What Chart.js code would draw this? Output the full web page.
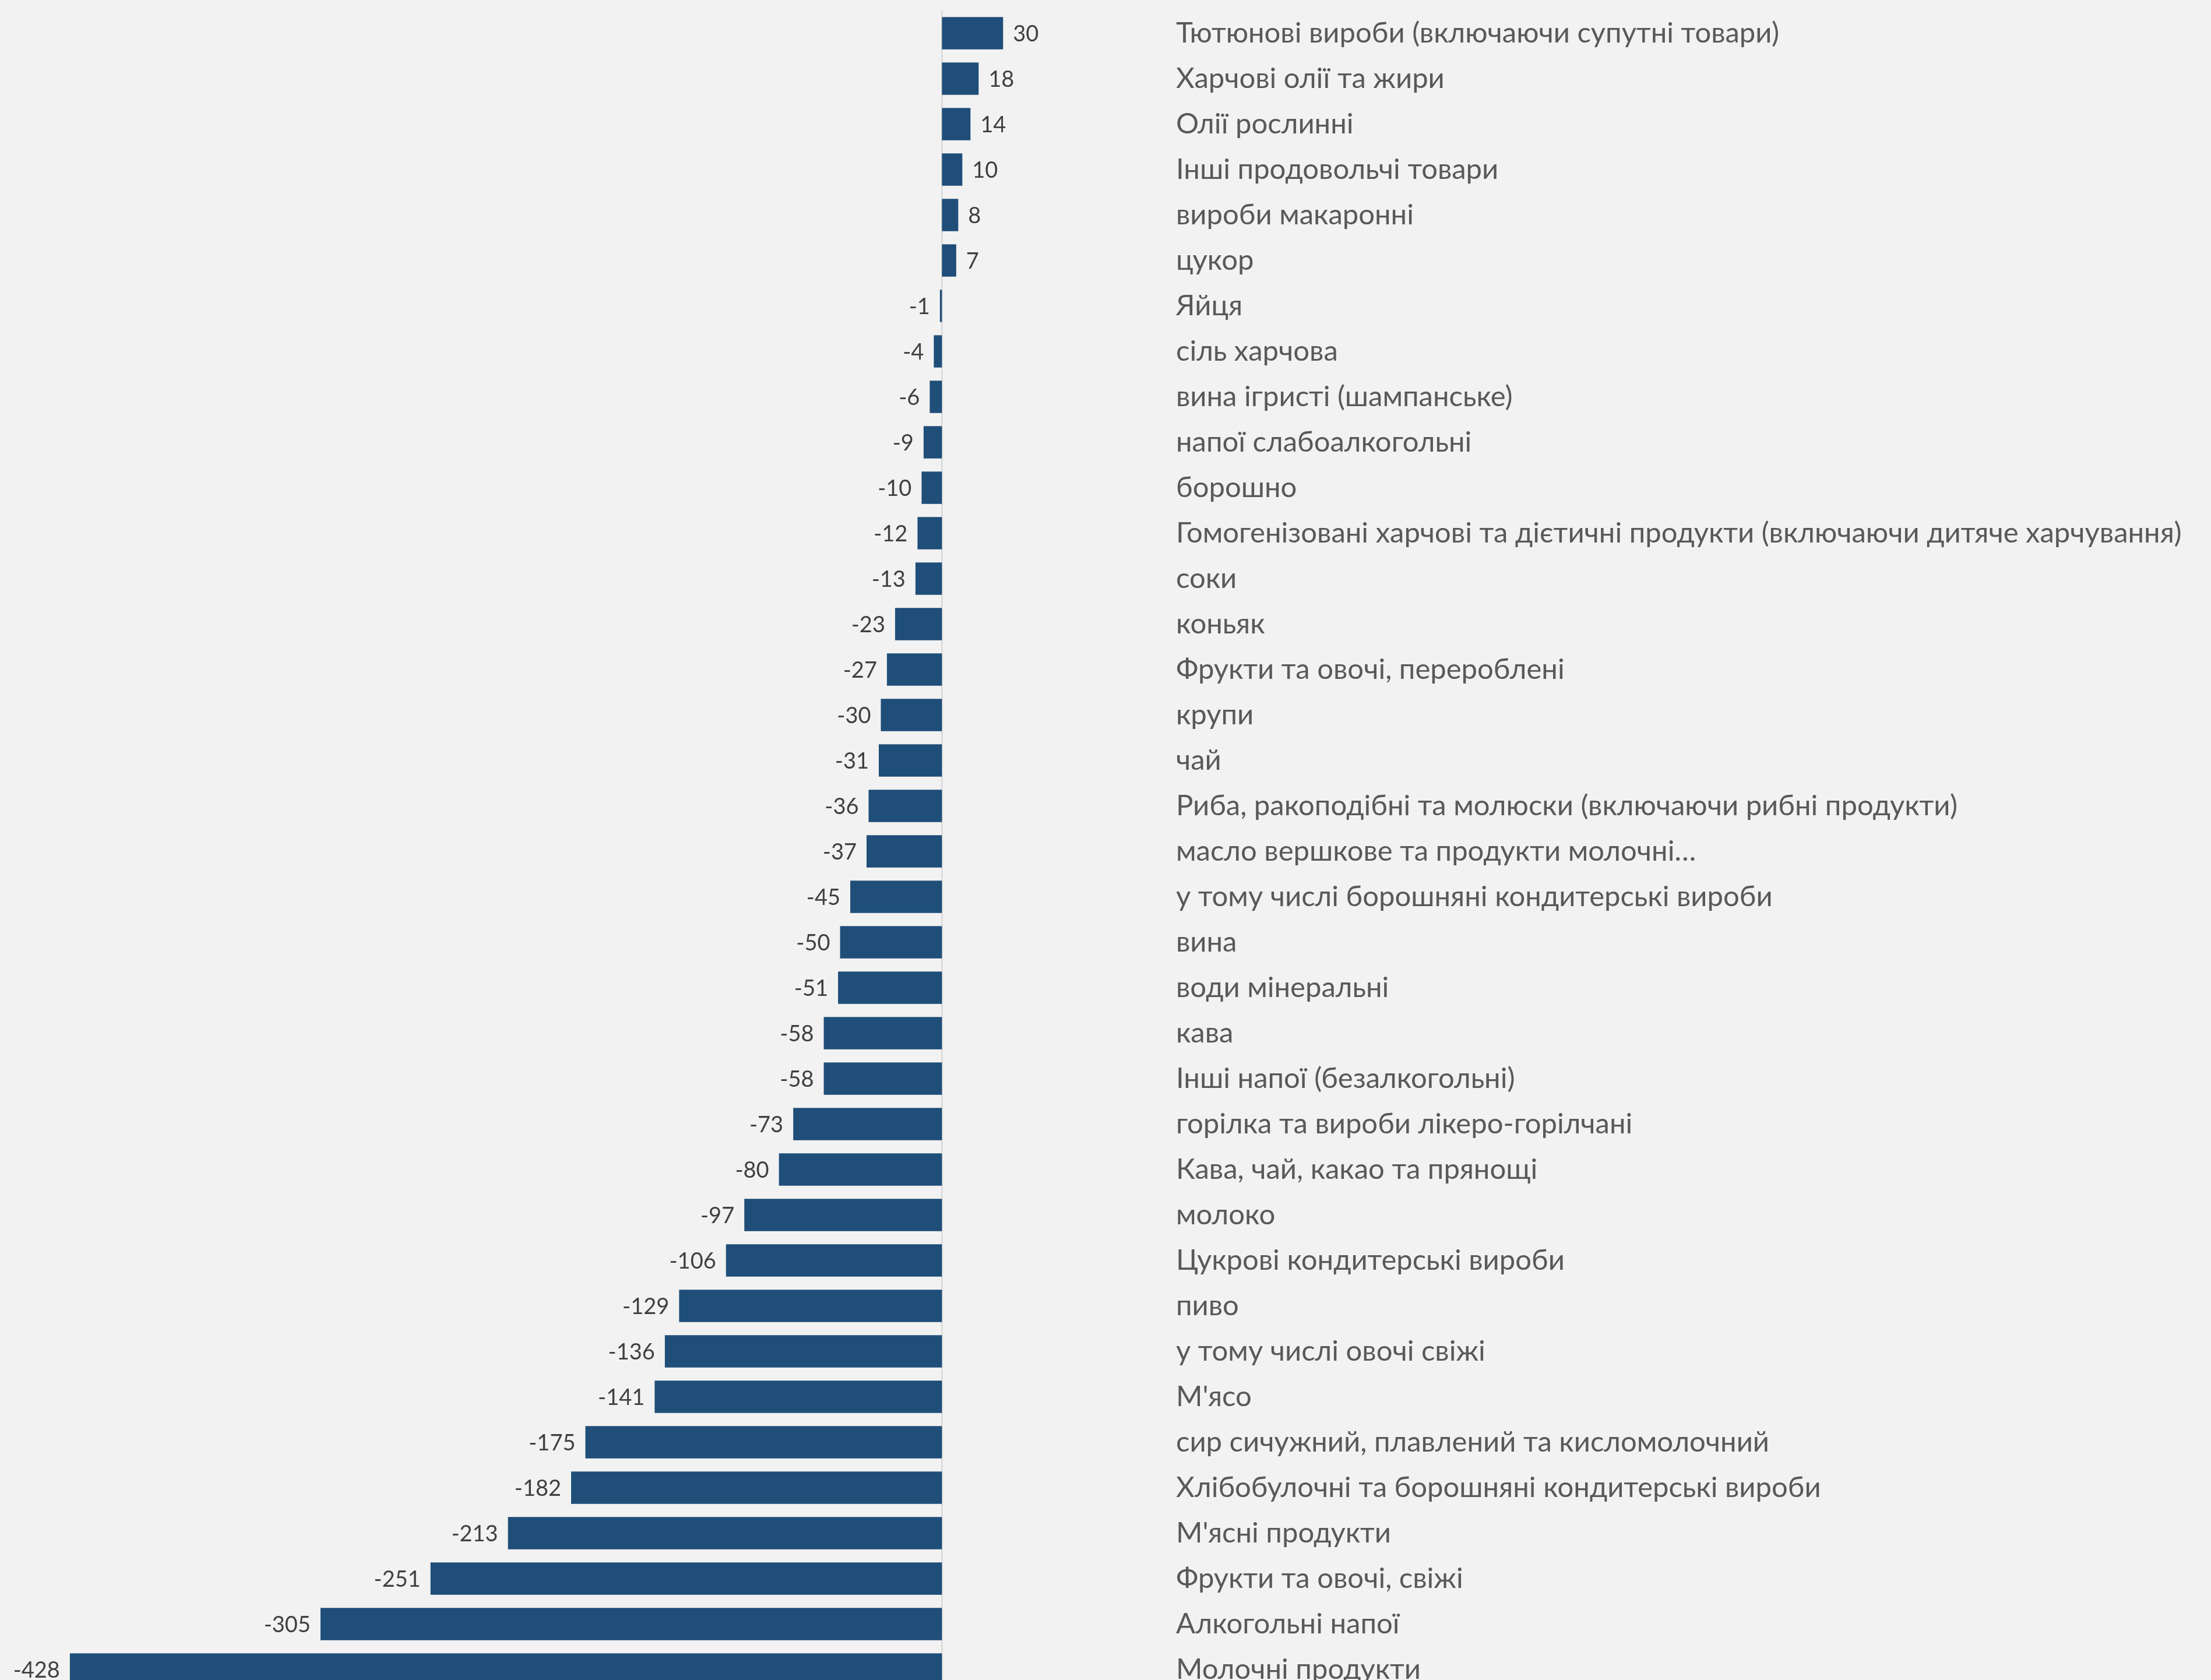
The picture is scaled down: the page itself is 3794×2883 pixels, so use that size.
<!DOCTYPE html>
<html lang="uk">
<head>
<meta charset="utf-8">
<title>Зміна за категоріями</title>
<script src="https://cdn.jsdelivr.net/npm/chart.js@4.4.1/dist/chart.umd.min.js"></script>
<style>
  html, body { margin: 0; padding: 0; background: #F2F2F2; overflow: hidden; }
  #chart { display: block; }
</style>
</head>
<body>
<canvas id="chart" width="3794" height="2910"></canvas>
<script>
// Категорії (зверху вниз)
const categories = [
  'Тютюнові вироби (включаючи супутні товари)',
  'Харчові олії та жири',
  'Олії рослинні',
  'Інші продовольчі товари',
  'вироби макаронні',
  'цукор',
  'Яйця',
  'сіль харчова',
  'вина ігристі (шампанське)',
  'напої слабоалкогольні',
  'борошно',
  'Гомогенізовані харчові та дієтичні продукти (включаючи дитяче харчування)',
  'соки',
  'коньяк',
  'Фрукти та овочі, перероблені',
  'крупи',
  'чай',
  'Риба, ракоподібні та молюски (включаючи рибні продукти)',
  'масло вершкове та продукти молочні…',
  'у тому числі борошняні кондитерські вироби',
  'вина',
  'води мінеральні',
  'кава',
  'Інші напої (безалкогольні)',
  'горілка та вироби лікеро-горілчані',
  'Кава, чай, какао та прянощі',
  'молоко',
  'Цукрові кондитерські вироби',
  'пиво',
  'у тому числі овочі свіжі',
  "М'ясо",
  'сир сичужний, плавлений та кисломолочний',
  'Хлібобулочні та борошняні кондитерські вироби',
  "М'ясні продукти",
  'Фрукти та овочі, свіжі',
  'Алкогольні напої',
  'Молочні продукти'
];

// Значення
const values = [
  30, 18, 14, 10, 8, 7, -1, -4, -6, -9, -10, -12, -13, -23, -27, -30, -31,
  -36, -37, -45, -50, -51, -58, -58, -73, -80, -97, -106, -129, -136, -141,
  -175, -182, -213, -251, -305, -428
];

// Межі осі значень
const xMin = -460;
const xMax = 100;

const BAR_COLOR = '#1F4E79';
const LABEL_FONT = 'Lato, "Open Sans", sans-serif';

// Підписи значень біля кінців стовпців + нульова лінія
const valueLabels = {
  id: 'valueLabels',
  beforeDatasetsDraw(chart) {
    const { ctx, chartArea, scales } = chart;
    const x0 = scales.x.getPixelForValue(0);
    ctx.save();
    ctx.strokeStyle = '#D9D9D9';
    ctx.lineWidth = 2.5;
    ctx.beginPath();
    ctx.moveTo(x0, chartArea.top);
    ctx.lineTo(x0, chartArea.bottom);
    ctx.stroke();
    ctx.restore();
  },
  afterDatasetsDraw(chart) {
    const { ctx } = chart;
    const meta = chart.getDatasetMeta(0);
    ctx.save();
    ctx.font = '38px ' + LABEL_FONT;
    ctx.fillStyle = '#404040';
    ctx.textBaseline = 'middle';
    meta.data.forEach((bar, i) => {
      const v = values[i];
      if (v >= 0) {
        ctx.textAlign = 'left';
        ctx.fillText(String(v), bar.x + 17, bar.y + 2);
      } else {
        ctx.textAlign = 'right';
        ctx.fillText(String(v), bar.x - 17, bar.y + 2);
      }
    });
    ctx.restore();
  }
};

new Chart(document.getElementById('chart'), {
  type: 'bar',
  data: {
    labels: categories,
    datasets: [{
      data: values,
      backgroundColor: BAR_COLOR,
      borderWidth: 0,
      categoryPercentage: 1,
      barPercentage: 0.71
    }]
  },
  options: {
    indexAxis: 'y',
    responsive: false,
    devicePixelRatio: 1,
    animation: false,
    layout: { padding: { left: 8, top: 18, right: 0, bottom: 6 } },
    plugins: {
      legend: { display: false },
      tooltip: { enabled: false }
    },
    scales: {
      x: {
        display: false,
        min: xMin,
        max: xMax
      },
      y: {
        position: 'right',
        grid: { display: false },
        border: { display: false },
        ticks: {
          padding: 44,
          autoSkip: false,
          color: '#595959',
          font: { family: LABEL_FONT, size: 49 }
        },
        afterFit(scale) {
          scale.width = 1828;
          scale.paddingTop = 0;
          scale.paddingBottom = 0;
        }
      }
    }
  },
  plugins: [valueLabels]
});
</script>
</body>
</html>
